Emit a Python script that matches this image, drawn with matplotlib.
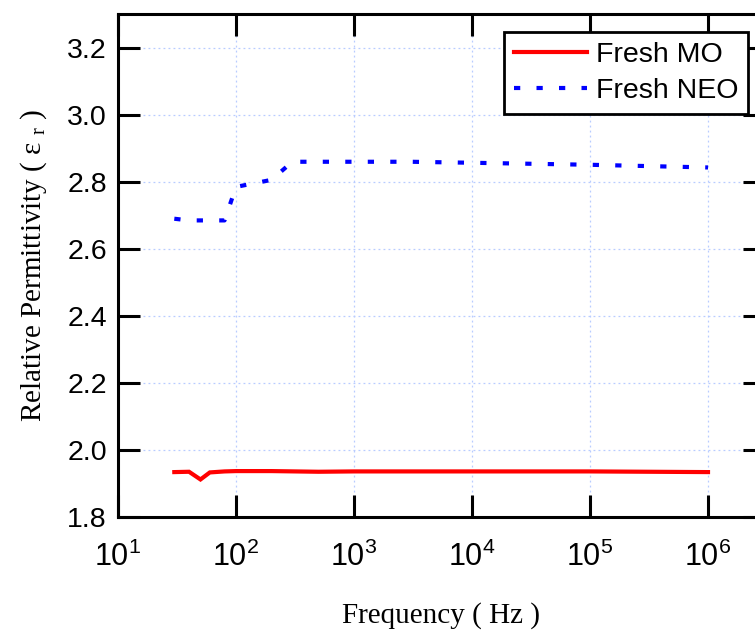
import matplotlib
matplotlib.use('Agg')
import matplotlib.pyplot as plt

# ---- data ----
freq_mo = [30, 40, 50, 60, 80, 100, 200, 500, 1000, 10000, 100000, 1000000]
eps_mo = [1.934, 1.935, 1.912, 1.933, 1.936, 1.937, 1.937, 1.935, 1.936, 1.936, 1.936, 1.934]

freq_neo = [30, 40, 50, 60, 80, 100, 200, 300, 1000, 3000, 10000, 100000, 1000000]
eps_neo = [2.690, 2.685, 2.685, 2.685, 2.685, 2.785, 2.806, 2.860, 2.860, 2.860, 2.857, 2.851, 2.843]

xticks = [1e1, 1e2, 1e3, 1e4, 1e5, 1e6]
xtick_labels = ['10^{1}', '10^{2}', '10^{3}', '10^{4}', '10^{5}', '10^{6}']
yticks = [1.8, 2.0, 2.2, 2.4, 2.6, 2.8, 3.0, 3.2]
ytick_labels = ['1.8', '2.0', '2.2', '2.4', '2.6', '2.8', '3.0', '3.2']

label_mo = 'Fresh MO'
label_neo = 'Fresh NEO'
xlabel = 'Frequency ( Hz )'
ylabel = r'Relative Permittivity ( ε $_\mathregular{r}$ )'

# ---- figure ----
plt.rcParams['font.family'] = ['Liberation Sans', 'DejaVu Sans']
fig = plt.figure(figsize=(7.55, 6.3), dpi=100)
W, H = 755, 630
left, right, bottom, top = 118, 765, 517, 14.3
ax = fig.add_axes([left / W, 1 - bottom / H, (right - left) / W, (bottom - top) / H])

ax.plot(freq_mo, eps_mo, color='#ff0000', lw=3.0, solid_joinstyle='miter', label=label_mo)
ax.plot(freq_neo, eps_neo, color='#0000ff', lw=3.0, linestyle=(0, (1.5, 3.9)),
        dash_capstyle='butt', label=label_neo)

ax.set_xscale('log')
ax.set_xlim(10, 10 ** 6.483)
ax.set_ylim(1.8, 3.3)
ax.set_xticks(xticks)
ax.set_xticklabels(['$\\mathregular{' + s + '}$' for s in xtick_labels])
ax.minorticks_off()
ax.set_yticks(yticks)
ax.set_yticklabels(ytick_labels)

ax.grid(True, color='#b8ccff', linestyle=(0, (1.5, 2.5)), linewidth=0.9)

for sp in ax.spines.values():
    sp.set_linewidth(2.2)
ax.tick_params(axis='both', which='major', direction='in', length=15.5, width=2.2,
               top=True, right=True, colors='black')
ax.tick_params(axis='y', labelsize=20.5, pad=8)
ax.tick_params(axis='x', labelsize=22, pad=18)

ax.set_xlabel(xlabel, family='Liberation Serif', fontsize=21, labelpad=21)
ax.set_ylabel(ylabel, family='Liberation Serif', fontsize=21, labelpad=13)

leg = ax.legend(loc='upper right', bbox_to_anchor=(748 / W, 1 - 32 / H),
                bbox_transform=fig.transFigure, fontsize=20.5, frameon=True,
                fancybox=False, framealpha=1, edgecolor='black',
                handlelength=2.56, handletextpad=0.3, borderpad=0.35,
                labelspacing=0.36, borderaxespad=0)
leg.get_frame().set_linewidth(2.0)

fig.savefig('out.png', dpi=100)
